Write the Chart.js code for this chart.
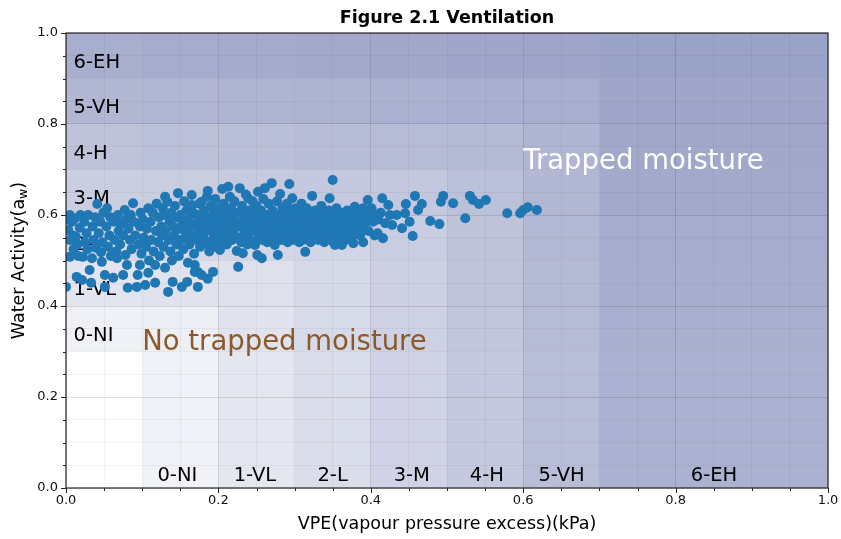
<!DOCTYPE html>
<html>
<head>
<meta charset="utf-8">
<script src="https://cdn.jsdelivr.net/npm/chart.js@4/dist/chart.umd.min.js"></script>
<style>
html,body{margin:0;padding:0;background:#fff;}
canvas{display:block;}
</style>
</head>
<body>
<canvas id="c" width="841" height="539"></canvas>
<script>
// ---- data ----
const samples = [
[0.000,0.442],[0.003,0.567],[0.005,0.600],[0.005,0.545],[0.005,0.508],[0.008,0.585],[0.010,0.525],[0.002,0.590],[0.009,0.555],
[0.012,0.593],[0.014,0.464],[0.015,0.535],[0.018,0.572],[0.016,0.510],[0.019,0.600],[0.013,0.552],
[0.021,0.457],[0.022,0.508],[0.024,0.585],[0.025,0.540],[0.027,0.560],[0.029,0.600],[0.028,0.525],
[0.031,0.479],[0.033,0.451],[0.034,0.505],[0.035,0.575],[0.036,0.545],[0.038,0.595],[0.039,0.528],
[0.041,0.624],[0.043,0.560],[0.045,0.585],[0.046,0.518],[0.047,0.497],[0.048,0.540],[0.049,0.605],
[0.051,0.442],[0.051,0.468],[0.053,0.575],[0.054,0.615],[0.055,0.530],[0.057,0.555],[0.058,0.595],[0.059,0.510],
[0.062,0.462],[0.063,0.585],[0.064,0.545],[0.066,0.520],[0.067,0.505],[0.068,0.600],[0.069,0.565],
[0.071,0.535],[0.072,0.580],[0.075,0.468],[0.075,0.555],[0.077,0.611],[0.078,0.512],[0.079,0.590],
[0.080,0.490],[0.081,0.440],[0.082,0.570],[0.084,0.545],[0.085,0.600],[0.086,0.525],[0.088,0.626],[0.089,0.585],
[0.091,0.555],[0.093,0.442],[0.094,0.468],[0.095,0.535],[0.097,0.490],[0.097,0.575],[0.098,0.605],[0.099,0.515],
[0.101,0.590],[0.102,0.550],[0.104,0.446],[0.105,0.530],[0.106,0.570],[0.108,0.615],[0.108,0.473],[0.109,0.500],
[0.111,0.585],[0.112,0.545],[0.114,0.605],[0.115,0.520],[0.117,0.451],[0.117,0.490],[0.118,0.565],[0.119,0.625],
[0.121,0.540],[0.122,0.595],[0.123,0.510],[0.125,0.575],[0.126,0.555],[0.127,0.615],[0.128,0.530],[0.129,0.600],
[0.130,0.640],[0.130,0.484],[0.131,0.565],[0.133,0.629],[0.134,0.431],[0.135,0.545],[0.136,0.585],[0.137,0.520],[0.138,0.605],[0.139,0.500],
[0.140,0.453],[0.141,0.575],[0.142,0.555],[0.143,0.620],[0.145,0.535],[0.146,0.595],[0.147,0.648],[0.148,0.510],[0.149,0.570],
[0.150,0.600],[0.151,0.545],[0.152,0.442],[0.153,0.585],[0.154,0.525],[0.155,0.630],[0.156,0.565],[0.158,0.610],[0.159,0.453],[0.159,0.550],
[0.160,0.495],[0.161,0.590],[0.162,0.535],[0.163,0.575],[0.165,0.644],[0.165,0.622],[0.166,0.555],[0.167,0.605],[0.168,0.515],[0.169,0.475],[0.169,0.490],
[0.170,0.580],[0.171,0.545],[0.172,0.600],[0.173,0.442],[0.173,0.475],[0.174,0.565],[0.175,0.625],[0.176,0.530],[0.178,0.629],[0.178,0.468],[0.179,0.590],
[0.180,0.555],[0.181,0.610],[0.182,0.575],[0.183,0.540],[0.185,0.640],[0.186,0.653],[0.186,0.460],[0.187,0.595],[0.188,0.520],[0.189,0.527],[0.189,0.565],
[0.190,0.620],[0.191,0.580],[0.192,0.545],[0.193,0.475],[0.194,0.605],[0.195,0.560],[0.196,0.635],[0.197,0.530],[0.198,0.590],[0.199,0.615],
[0.200,0.550],[0.201,0.570],[0.202,0.523],[0.203,0.600],[0.205,0.657],[0.205,0.585],[0.206,0.540],[0.207,0.625],[0.208,0.560],[0.209,0.610],
[0.210,0.580],[0.211,0.535],[0.212,0.595],[0.213,0.662],[0.214,0.550],[0.215,0.640],[0.216,0.570],[0.217,0.615],[0.218,0.545],[0.219,0.600],
[0.220,0.565],[0.221,0.630],[0.222,0.585],[0.224,0.521],[0.225,0.550],[0.226,0.486],[0.227,0.605],[0.228,0.659],[0.229,0.575],
[0.230,0.540],[0.231,0.620],[0.232,0.516],[0.233,0.590],[0.234,0.560],[0.236,0.645],[0.237,0.605],[0.238,0.535],[0.239,0.637],[0.239,0.575],
[0.240,0.550],[0.241,0.610],[0.242,0.585],[0.243,0.565],[0.245,0.630],[0.246,0.540],[0.247,0.600],[0.248,0.534],[0.249,0.575],
[0.250,0.620],[0.251,0.512],[0.252,0.651],[0.253,0.555],[0.254,0.590],[0.255,0.570],[0.256,0.610],[0.257,0.505],[0.258,0.545],[0.259,0.635],
[0.260,0.580],[0.261,0.659],[0.262,0.560],[0.263,0.600],[0.264,0.540],[0.266,0.625],[0.267,0.570],[0.268,0.590],[0.269,0.550],
[0.270,0.670],[0.271,0.610],[0.272,0.575],[0.274,0.534],[0.275,0.595],[0.276,0.555],[0.277,0.630],[0.278,0.512],[0.279,0.580],
[0.280,0.600],[0.281,0.646],[0.282,0.565],[0.283,0.545],[0.284,0.615],[0.286,0.585],[0.287,0.550],[0.288,0.600],[0.289,0.570],
[0.290,0.625],[0.291,0.540],[0.292,0.590],[0.293,0.668],[0.294,0.560],[0.295,0.610],[0.297,0.637],[0.297,0.545],[0.298,0.580],[0.299,0.600],
[0.300,0.565],[0.301,0.615],[0.302,0.550],[0.303,0.590],[0.305,0.575],[0.306,0.540],[0.307,0.605],[0.308,0.560],[0.309,0.625],
[0.310,0.580],[0.311,0.545],[0.312,0.600],[0.314,0.519],[0.315,0.565],[0.316,0.615],[0.317,0.550],[0.318,0.590],[0.319,0.570],
[0.320,0.605],[0.321,0.540],[0.323,0.642],[0.324,0.575],[0.325,0.560],[0.326,0.595],[0.327,0.610],[0.328,0.550],[0.329,0.585],
[0.330,0.565],[0.331,0.545],[0.332,0.600],[0.334,0.580],[0.335,0.620],[0.336,0.555],[0.337,0.590],[0.338,0.570],[0.339,0.540],
[0.340,0.605],[0.341,0.565],[0.342,0.585],[0.344,0.550],[0.345,0.610],[0.346,0.637],[0.347,0.575],[0.348,0.595],[0.349,0.560],
[0.350,0.677],[0.351,0.540],[0.352,0.600],[0.353,0.534],[0.354,0.580],[0.355,0.615],[0.356,0.560],[0.357,0.590],[0.358,0.570],
[0.360,0.550],[0.361,0.605],[0.362,0.534],[0.363,0.585],[0.364,0.565],[0.366,0.600],[0.367,0.545],[0.368,0.575],[0.369,0.610],
[0.370,0.560],[0.371,0.590],[0.373,0.570],[0.374,0.605],[0.375,0.550],[0.377,0.538],[0.378,0.580],[0.379,0.618],
[0.380,0.565],[0.382,0.600],[0.383,0.575],[0.385,0.590],[0.386,0.555],[0.388,0.610],[0.389,0.570],
[0.390,0.615],[0.390,0.540],[0.392,0.580],[0.394,0.595],[0.396,0.633],[0.397,0.565],[0.399,0.600],
[0.401,0.615],[0.403,0.585],[0.405,0.555],[0.406,0.600],[0.409,0.560],[0.410,0.590],[0.413,0.605],[0.415,0.637],[0.416,0.549],
[0.419,0.582],[0.423,0.622],[0.425,0.600],[0.428,0.578],[0.434,0.600],[0.441,0.571],[0.445,0.604],[0.446,0.624],[0.451,0.585],
[0.455,0.554],[0.458,0.642],[0.462,0.611],[0.467,0.624],[0.478,0.587],[0.490,0.580],[0.492,0.629],[0.495,0.642],[0.508,0.626],
[0.524,0.593],[0.530,0.642],[0.534,0.633],[0.542,0.624],[0.551,0.633],[0.579,0.604],[0.596,0.604],[0.600,0.611],[0.606,0.617],[0.618,0.611]
];
const levelNames = ['0-NI','1-VL','2-L','3-M','4-H','5-VH','6-EH'];
const colBounds = [0,0.1,0.2,0.3,0.4,0.5,0.6,0.7,1.0];
const rowBounds = [0,0.3,0.4,0.5,0.6,0.7,0.8,0.9,1.0];
const colShade = [0,0.067,0.129,0.176,0.224,0.28,0.333,0.4];
const rowShade = [0,0.071,0.138,0.19,0.25,0.31,0.367,0.414];
const rowLabelY = [0.335,0.435,0.535,0.635,0.735,0.835,0.935];
const colLabelX = [0.12,0.22,0.33,0.43,0.53,0.62,0.82];
const axisTicks = [0,0.2,0.4,0.6,0.8,1.0];

const FONT = '"DejaVu Sans", Verdana, sans-serif';
const isMajor = v => Math.abs(v/0.2 - Math.round(v/0.2)) < 1e-6;

const zonesPlugin = {
  id:'zones',
  beforeDraw(chart){
    const {ctx, scales:{x,y}} = chart;
    ctx.save();
    ctx.fillStyle = '#fff';
    ctx.fillRect(0,0,chart.width,chart.height);
    for(let i=0;i<colBounds.length-1;i++){
      for(let j=0;j<rowBounds.length-1;j++){
        const a1 = colShade[i], a2 = rowShade[j];
        const a = Math.max(a1,a2) + 0.15*Math.min(a1,a2);
        if(a<=0) continue;
        const x0 = x.getPixelForValue(colBounds[i]), x1 = x.getPixelForValue(colBounds[i+1]);
        const y0 = y.getPixelForValue(rowBounds[j+1]), y1 = y.getPixelForValue(rowBounds[j]);
        ctx.fillStyle = `rgba(45,60,137,${a.toFixed(3)})`;
        ctx.fillRect(x0,y0,x1-x0,y1-y0);
      }
    }
    ctx.restore();
  },
  beforeDatasetsDraw(chart){
    const {ctx, scales:{x,y}} = chart;
    ctx.save();
    ctx.fillStyle = '#000';
    ctx.font = `19.5px ${FONT}`;
    ctx.textBaseline = 'middle';
    ctx.textAlign = 'left';
    levelNames.forEach((n,i)=>{
      ctx.fillText(n, x.getPixelForValue(0.01), y.getPixelForValue(rowLabelY[i]));
      ctx.fillText(n, x.getPixelForValue(colLabelX[i]), y.getPixelForValue(0.027));
    });
    ctx.font = `27.5px ${FONT}`;
    ctx.fillStyle = '#ffffff';
    ctx.fillText('Trapped moisture', x.getPixelForValue(0.6), y.getPixelForValue(0.717));
    ctx.fillStyle = '#8b5a2b';
    ctx.fillText('No trapped moisture', x.getPixelForValue(0.1), y.getPixelForValue(0.32));
    ctx.restore();
  },
  afterDraw(chart){
    const {ctx, chartArea:ca, scales:{x,y}} = chart;
    ctx.save();
    ctx.strokeStyle = '#262626';
    ctx.lineWidth = 1.2;
    ctx.strokeRect(ca.left, ca.top, ca.right-ca.left, ca.bottom-ca.top);
    ctx.lineWidth = 1;
    for(let k=0;k<=20;k++){
      const v = k*0.05;
      const len = (k%4===0) ? 5 : 3;
      const px = Math.round(x.getPixelForValue(v))+0.5;
      ctx.beginPath(); ctx.moveTo(px, ca.bottom); ctx.lineTo(px, ca.bottom+len); ctx.stroke();
      const py = Math.round(y.getPixelForValue(v))+0.5;
      ctx.beginPath(); ctx.moveTo(ca.left, py); ctx.lineTo(ca.left-len, py); ctx.stroke();
    }
    ctx.fillStyle = '#000';
    ctx.textAlign = 'center';
    ctx.textBaseline = 'middle';
    ctx.font = `bold 17.5px ${FONT}`;
    ctx.fillText('Figure 2.1 Ventilation', (ca.left+ca.right)/2, 18);
    ctx.font = `17.5px ${FONT}`;
    ctx.fillText('VPE(vapour pressure excess)(kPa)', (ca.left+ca.right)/2, 524);
    ctx.translate(19, (ca.top+ca.bottom)/2);
    ctx.rotate(-Math.PI/2);
    const main1 = 'Water Activity(a', sub = 'w', main2 = ')';
    ctx.font = `17.5px ${FONT}`;
    const w1 = ctx.measureText(main1).width, w3 = ctx.measureText(main2).width;
    ctx.font = `12.5px ${FONT}`;
    const w2 = ctx.measureText(sub).width;
    let sx = -(w1+w2+w3)/2;
    ctx.textAlign = 'left';
    ctx.font = `17.5px ${FONT}`;
    ctx.fillText(main1, sx, 0);
    ctx.font = `12.5px ${FONT}`;
    ctx.fillText(sub, sx+w1, 5);
    ctx.font = `17.5px ${FONT}`;
    ctx.fillText(main2, sx+w1+w2, 0);
    ctx.restore();
  }
};

const gridColor = c => isMajor(c.tick.value) ? 'rgba(0,0,0,0.12)' : 'rgba(0,0,0,0.045)';
const tickOpts = (pad) => ({
  stepSize:0.05, autoSkip:false, maxRotation:0, padding:pad,
  color:'#111', font:{family:FONT, size:13},
  callback: v => isMajor(v) && axisTicks.some(t=>Math.abs(t-v)<1e-6) ? Number(v).toFixed(1) : ''
});

new Chart(document.getElementById('c'), {
  type:'scatter',
  data:{ datasets:[{
    data: samples.map(p=>({x:p[0], y:p[1]})),
    backgroundColor:'#1f77b4', borderWidth:0, pointRadius:5, pointHoverRadius:5
  }]},
  options:{
    responsive:false, animation:false,
    layout:{padding:{top:33, right:13, left:0, bottom:0}},
    plugins:{legend:{display:false}, tooltip:{enabled:false}, title:{display:false}},
    scales:{
      x:{type:'linear', min:0, max:1, ticks:tickOpts(5),
         grid:{color:gridColor, drawTicks:false, lineWidth:1}, border:{display:false},
         afterFit: s => { s.height = 51; s.paddingLeft = 0; s.paddingRight = 0; }},
      y:{type:'linear', min:0, max:1, ticks:tickOpts(8),
         grid:{color:gridColor, drawTicks:false, lineWidth:1}, border:{display:false},
         afterFit: s => { s.width = 66; s.paddingTop = 0; s.paddingBottom = 0; }}
    }
  },
  plugins:[zonesPlugin]
});
</script>
</body>
</html>
